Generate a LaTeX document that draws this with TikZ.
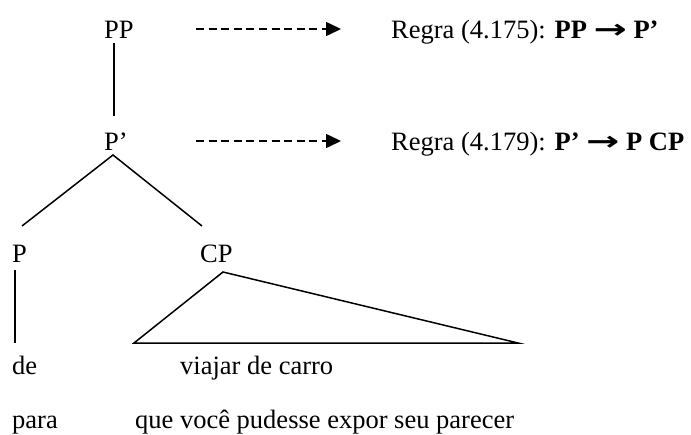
\documentclass[tikz,border=0pt]{standalone}
\usepackage{graphicx}
\usepackage{fontspec}
\setmainfont{Liberation Serif}
\newfontfamily\arrowfont{DejaVu Sans}
\newcommand{\rarr}{\scalebox{1.5}[1]{\arrowfont\bfseries →}}
\usetikzlibrary{arrows.meta}
\begin{document}
\begin{tikzpicture}[x=1pt,y=-1pt,
  lbl/.style={anchor=base west, inner sep=0pt, font=\fontsize{26.5}{30}\selectfont},
  edge/.style={line width=1.5pt},
  dasharrow/.style={line width=1.5pt, dash pattern=on 8pt off 4.6pt,
    -{Triangle[length=15pt,width=14pt]}}]
\useasboundingbox (0,0) rectangle (691,434);
% labels
\node[lbl] (pp) at (104,38) {PP};
\node[lbl] (pbar) at (104,150) {P’};
\node[lbl] (p) at (12,262) {P};
\node[lbl] (cp) at (200,262) {CP};
\node[lbl] (de) at (12,374) {de};
\node[lbl] (viajar) at (180,374) {viajar de carro};
\node[lbl] (para) at (12,428) {para};
\node[lbl] (que) at (135,428) {que você pudesse expor seu parecer};
\node[lbl] (r1) at (391,38) {Regra (4.175): \textbf{PP \rarr{} P’}};
\node[lbl] (r2) at (391,150) {Regra (4.179): \textbf{P’ \rarr{} P CP}};
% tree coordinates
\coordinate (ppbot) at (114,43);
\coordinate (pbartop) at (114,116);
\coordinate (apex) at (113,155);
\coordinate (lend) at (22,226);
\coordinate (rend) at (202,226);
\coordinate (ptop) at (15,270);
\coordinate (pbot) at (15,343);
\coordinate (tapex) at (223,272);
\coordinate (tl) at (134,343);
\coordinate (tr) at (518,343);
\coordinate (a1s) at (196,29);
\coordinate (a1e) at (341,29);
\coordinate (a2s) at (196,141);
\coordinate (a2e) at (341,141);
% connectors
\draw[edge] (ppbot) -- (pbartop);
\draw[edge] (lend) -- (apex) -- (rend);
\draw[edge] (ptop) -- (pbot);
\draw[edge, line join=miter] (tapex) -- (tl) -- (tr) -- cycle;
\draw[dasharrow] (a1s) -- (a1e);
\draw[dasharrow] (a2s) -- (a2e);
\end{tikzpicture}
\end{document}
